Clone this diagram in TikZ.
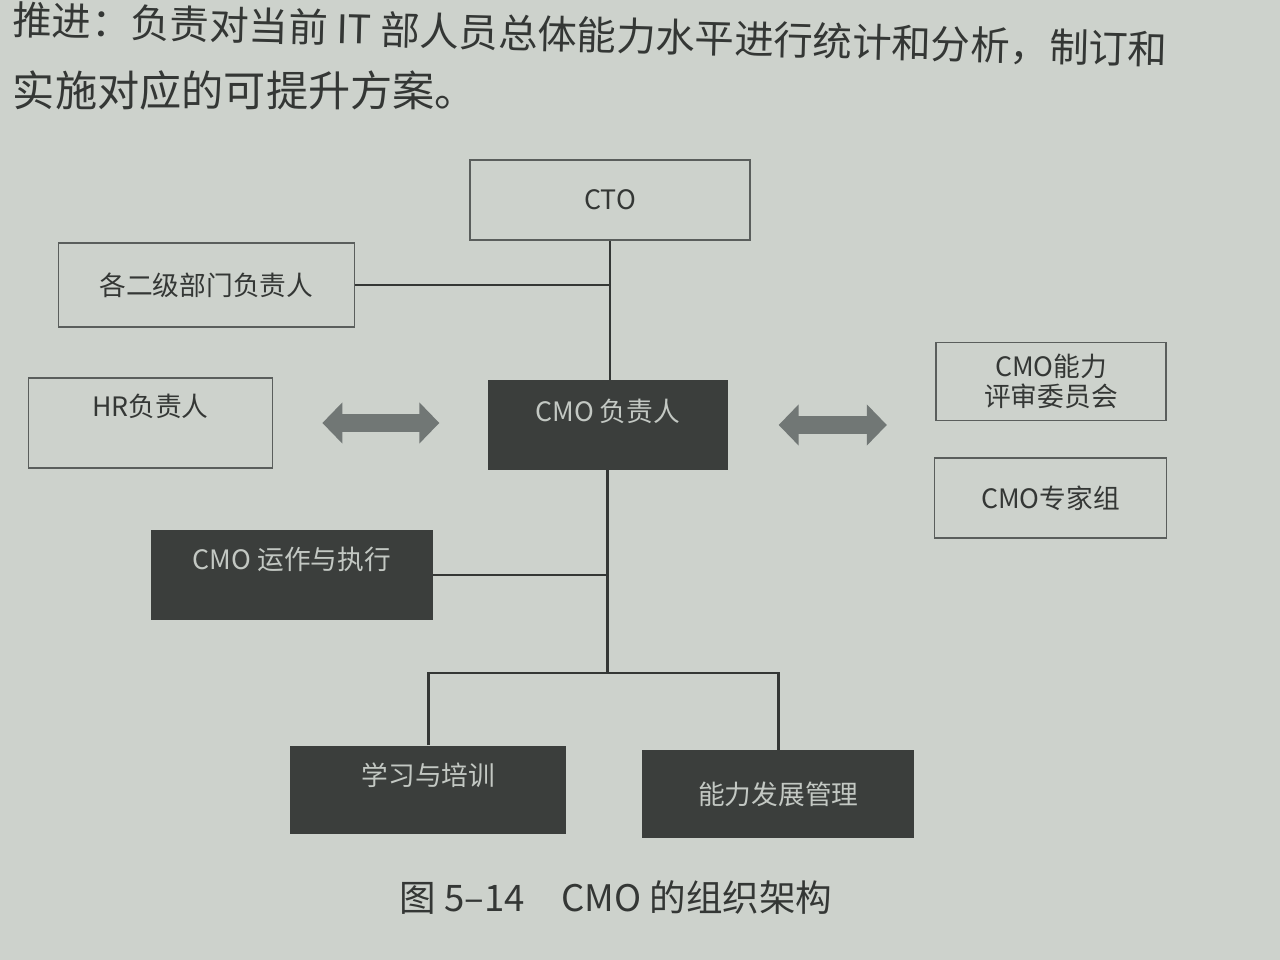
\documentclass[tikz,border=0pt]{standalone}
\usepackage{fontspec}
\setmainfont{Noto Sans CJK SC}
\usetikzlibrary{arrows.meta}
\definecolor{paper}{HTML}{CDD2CC}
\definecolor{ink}{HTML}{343735}
\definecolor{slab}{HTML}{3B3E3C}
\definecolor{pale}{HTML}{C3C8C3}
\definecolor{rule}{HTML}{5A5E5C}
\definecolor{grip}{HTML}{717775}

\begin{document}
\begin{tikzpicture}[
  box/.style={draw=rule, line width=1.1pt, fill=paper, text=ink, align=center,
              font=\fontsize{19}{21.5}\selectfont, inner sep=1mm},
  dark/.style={fill=slab, text=pale, align=center,
               font=\fontsize{19}{21.5}\selectfont, inner sep=1mm},
  lift/.style={text depth=#1},
  wire/.style={draw=ink, line width=1.9pt},
  dbl/.style={draw=grip, line width=4.5mm,
              {Triangle[width=10mm,length=5mm]}-{Triangle[width=10mm,length=5mm]}}
]
\useasboundingbox[fill=paper] (0,0) rectangle (32,24);

% page text above the figure
\node[anchor=west, rotate=-1.5, text=ink, font=\fontsize{28}{34}\selectfont] (para1) at (0.2,23.5)
  {推进：负责对当前 IT 部人员总体能力水平进行统计和分析，制订和};
\node[anchor=west, text=ink, font=\fontsize{30}{36}\selectfont] (para2) at (0.2,21.75)
  {实施对应的可提升方案。};

% boxes
\node[box, minimum width=7cm, minimum height=2cm] (cto) at (15.25,19) {CTO};
\node[box, minimum width=7.4cm, minimum height=2.1cm] (dept) at (5.16,16.875) {各二级部门负责人};
\node[box, lift=9mm, minimum width=6.1cm, minimum height=2.25cm] (hr) at (3.76,13.425) {HR负责人};
\node[dark, lift=7.5mm, minimum width=6cm, minimum height=2.25cm] (cmo) at (15.19,13.375) {CMO 负责人};
\node[box, minimum width=5.75cm, minimum height=1.95cm] (jury) at (26.275,14.46) {CMO能力\\评审委员会};
\node[box, minimum width=5.8cm, minimum height=2cm] (expert) at (26.26,11.55) {CMO专家组};
\node[dark, lift=8.5mm, minimum width=7.05cm, minimum height=2.25cm] (ops) at (7.3,9.625) {CMO 运作与执行};
\node[dark, lift=7.5mm, minimum width=6.9cm, minimum height=2.2cm] (learn) at (10.71,4.26) {学习与培训};
\node[dark, minimum width=6.8cm, minimum height=2.2cm] (grow) at (19.46,4.15) {能力发展管理};

% connectors
\coordinate (bus) at (cmo.south |- 0,7.175);
\coordinate (side) at (expert.west |- cmo.east);
\draw[wire] (cto.south) -- (cto.south |- cmo.north);
\draw[wire] (dept.east) -- (dept.east -| cto.south);
\draw[wire] (cmo.south) -- (bus);
\draw[wire] (ops.east) -- (ops.east -| cmo.south);
\draw[wire] (learn.north) |- (bus) -| (grow.north);

\draw[dbl, shorten <=12.3mm, shorten >=12mm] (hr.east) -- (hr.east -| cmo.west);
\draw[dbl, shorten <=12.7mm, shorten >=11.7mm] (cmo.east) -- (side);

% caption
\node[text=ink, font=\fontsize{26}{30}\selectfont] (cap) at (15.4,1.55) {图 5–14\quad CMO 的组织架构};
\end{tikzpicture}
\end{document}
